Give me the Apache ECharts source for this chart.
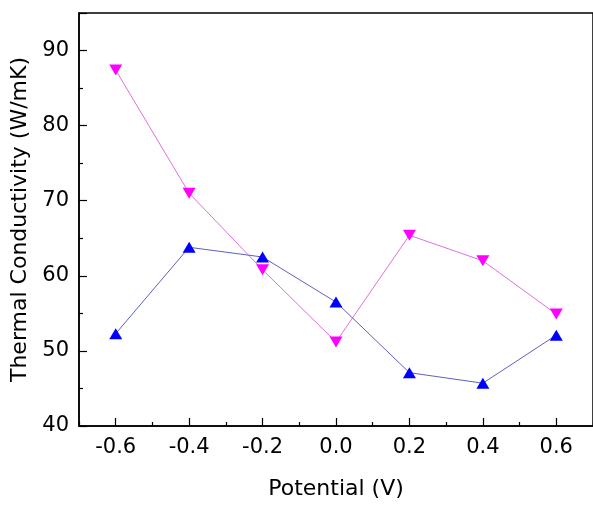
<!DOCTYPE html>
<html>
<head>
<meta charset="utf-8">
<script src="https://cdn.jsdelivr.net/npm/echarts@6/dist/echarts.min.js"></script>
<style>
  html, body { margin: 0; padding: 0; background: #fff; }
  #chart { width: 593px; height: 505px; }
</style>
</head>
<body>
<div id="chart"></div>
<script>
// potential (V)
const potential = [-0.6, -0.4, -0.2, 0.0, 0.2, 0.4, 0.6]
// thermal conductivity, magenta down triangles
const seriesDown = [87.4, 71.0, 60.8, 51.2, 65.4, 62.0, 54.9]
// thermal conductivity, blue up triangles
const seriesUp = [52.3, 63.8, 62.5, 56.5, 47.1, 45.7, 52.1]
// x ticks
const xMajor = [-0.6, -0.4, -0.2, 0, 0.2, 0.4, 0.6]
const xMinor = [-0.7, -0.5, -0.3, -0.1, 0.1, 0.3, 0.5, 0.7]

const font = 'DejaVu Sans, sans-serif'

const chart = echarts.init(document.getElementById('chart'))
chart.setOption({
  animation: false,
  backgroundColor: '#fff',
  grid: {
    left: 79,
    right: -2,
    top: 13,
    bottom: 77,
    show: true,
    borderColor: '#000',
    borderWidth: 1.5,
    containLabel: false
  },
  xAxis: [
    {
      type: 'value',
      min: -0.7,
      max: 0.7,
      name: 'Potential (V)',
      nameLocation: 'middle',
      nameGap: 52,
      nameTextStyle: { fontFamily: font, fontSize: 22, color: '#000' },
      axisLine: { show: true, onZero: false, lineStyle: { color: '#000', width: 1.5 } },
      axisTick: { show: true, inside: true, length: 8, customValues: xMajor, lineStyle: { color: '#000', width: 1.2 } },
      splitLine: { show: false },
      axisLabel: {
        fontFamily: font, fontSize: 21, color: '#000', margin: 11,
        customValues: xMajor,
        formatter: function (v) { return v.toFixed(1) }
      }
    },
    {
      type: 'value',
      min: -0.7,
      max: 0.7,
      position: 'bottom',
      axisLine: { show: false, onZero: false },
      axisTick: { show: true, inside: true, length: 4, customValues: xMinor, lineStyle: { color: '#000', width: 1.2 } },
      axisLabel: { show: false },
      splitLine: { show: false }
    }
  ],
  yAxis: {
    type: 'value',
    min: 40,
    max: 95,
    interval: 10,
    name: 'Thermal Conductivity (W/mK)',
    nameLocation: 'middle',
    nameGap: 43,
    nameTextStyle: { fontFamily: font, fontSize: 22, color: '#000' },
    axisLine: { show: true, onZero: false, lineStyle: { color: '#000', width: 1.5 } },
    axisTick: { show: true, inside: true, length: 8, lineStyle: { color: '#000', width: 1.2 } },
    minorTick: { show: true, splitNumber: 2, length: 4, lineStyle: { color: '#000', width: 1.2 } },
    splitLine: { show: false },
    axisLabel: {
      fontFamily: font, fontSize: 21, color: '#000', margin: 10,
      formatter: function (v) { return v > 90 ? '' : String(v) }
    }
  },
  series: [
    {
      name: 'down',
      type: 'line',
      data: potential.map((x, i) => [x, seriesDown[i]]),
      symbol: 'triangle',
      symbolRotate: 180,
      symbolSize: [13, 11],
      itemStyle: { color: '#ff00ff' },
      lineStyle: { color: '#e070e0', width: 1 }
    },
    {
      name: 'up',
      type: 'line',
      data: potential.map((x, i) => [x, seriesUp[i]]),
      symbol: 'triangle',
      symbolSize: [13, 11],
      itemStyle: { color: '#0000ff' },
      lineStyle: { color: '#6060c0', width: 1 }
    }
  ]
})
</script>
</body>
</html>
